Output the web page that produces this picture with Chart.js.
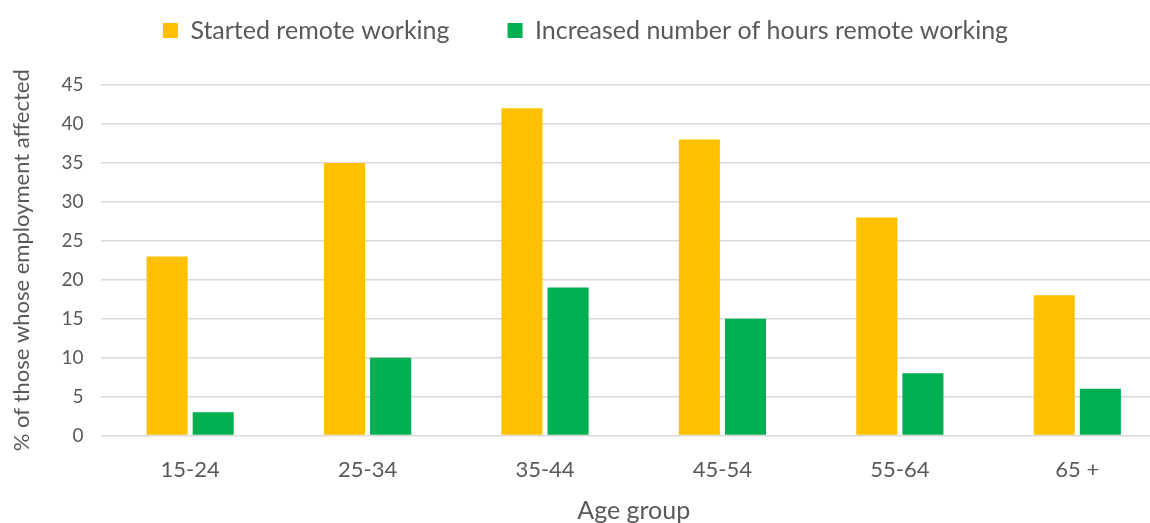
<!DOCTYPE html>
<html>
<head>
<meta charset="utf-8">
<script src="https://cdn.jsdelivr.net/npm/chart.js@4.4.0/dist/chart.umd.min.js"></script>
<style>
    html, body { margin: 0; padding: 0; background: #fff; overflow: hidden; }
    #wrap { width: 1166px; height: 523px; }
</style>
</head>
<body>
<div id="wrap"><canvas id="grafico"></canvas></div>
<script>
// dados
const faixas = ["15-24", "25-34", "35-44", "45-54", "55-64", "65 +"];
const comecou = [23, 35, 42, 38, 28, 18];
const aumentou = [3, 10, 19, 15, 8, 6];
const ticksY = [0, 5, 10, 15, 20, 25, 30, 35, 40, 45];

const fonte = "Lato, 'Open Sans', sans-serif";
const cinza = "#595959";

// espaço extra abaixo da legenda
const folgaLegenda = {
    id: "folgaLegenda",
    beforeInit(chart) {
        const fitOrig = chart.legend.fit;
        chart.legend.fit = function () {
            fitOrig.call(this);
            this.height += 32;
        };
    },
};

new Chart(document.getElementById("grafico"), {
    type: "bar",
    data: {
        labels: faixas,
        datasets: [
            {
                label: "Started remote working",
                data: comecou,
                backgroundColor: "#FFC000",
                categoryPercentage: 0.52,
                barPercentage: 0.89,
            },
            {
                label: "Increased number of hours remote working",
                data: aumentou,
                backgroundColor: "#00B050",
                categoryPercentage: 0.52,
                barPercentage: 0.89,
            },
        ],
    },
    plugins: [folgaLegenda],
    options: {
        responsive: true,
        maintainAspectRatio: false,
        animation: false,
        layout: { padding: { top: -40, left: 5, right: 0, bottom: -3 } },
        plugins: {
            legend: {
                position: "top",
                labels: {
                    boxWidth: 15,
                    boxHeight: 15,
                    padding: 58,
                    color: cinza,
                    font: { family: fonte, size: 25 },
                },
            },
            tooltip: { enabled: false },
        },
        scales: {
            x: {
                grid: { display: false },
                border: { display: false },
                ticks: { color: cinza, padding: 13, font: { family: fonte, size: 22 } },
                title: {
                    display: true,
                    text: "Age group",
                    color: cinza,
                    padding: { top: 0, bottom: 0 },
                    font: { family: fonte, size: 25 },
                },
            },
            y: {
                min: 0,
                max: 45,
                afterBuildTicks: (axis) => {
                    axis.ticks = ticksY.map((v) => ({ value: v }));
                },
                grid: { color: "#d9d9d9", lineWidth: 1.5, drawTicks: false },
                border: { display: false },
                ticks: { color: cinza, padding: 18, font: { family: fonte, size: 19 } },
                title: {
                    display: true,
                    text: "% of those whose employment affected",
                    color: cinza,
                    padding: { bottom: 8 },
                    font: { family: fonte, size: 22 },
                },
            },
        },
    },
});
</script>
</body>
</html>
